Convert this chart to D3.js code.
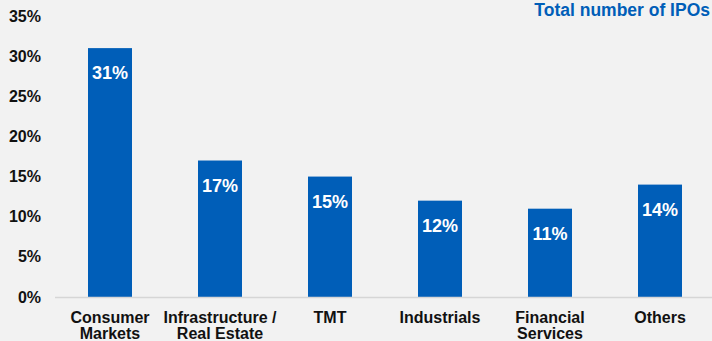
<!DOCTYPE html>
<html>
<head>
<meta charset="utf-8">
<script src="https://cdn.jsdelivr.net/npm/d3@7/dist/d3.min.js"></script>
<style>
  html, body { margin: 0; padding: 0; background: #f2f2f2; }
  svg { display: block; font-family: "Liberation Sans", Arial, sans-serif; }
</style>
</head>
<body>
<svg id="chart" width="712" height="341"></svg>
<script>
// IPO share by sector
const categories = [["Consumer", "Markets"], ["Infrastructure /", "Real Estate"], ["TMT"], ["Industrials"], ["Financial", "Services"], ["Others"]];
const shares = [31, 17, 15, 12, 11, 14];
const yTicks = [0, 5, 10, 15, 20, 25, 30, 35];
const legendLabel = "Total number of IPOs";

const W = 712, H = 341;
const blue = "#005eb8";
const svg = d3.select("#chart");

svg.append("rect").attr("width", W).attr("height", H).attr("fill", "#f2f2f2");

const keys = categories.map(c => c.join(" "));
const x = d3.scaleBand().domain(keys).range([55, 715]).paddingInner(0.6).paddingOuter(0.3);
const y = d3.scaleLinear().domain([0, 35]).range([297, 16]);

// y axis labels (no line, no ticks)
const yAxis = svg.append("g")
  .attr("transform", "translate(41,0)")
  .call(d3.axisLeft(y).tickValues(yTicks).tickSize(0).tickPadding(0).tickFormat(d => d + "%"));
yAxis.select(".domain").remove();
yAxis.selectAll("text")
  .attr("font-family", "Liberation Sans, Arial, sans-serif")
  .attr("font-size", 16).attr("font-weight", "bold").attr("fill", "#111");

// bars
svg.append("g").selectAll("rect")
  .data(shares)
  .join("rect")
  .attr("x", (d, i) => x(keys[i]))
  .attr("y", d => y(d))
  .attr("width", x.bandwidth())
  .attr("height", d => y(0) - y(d))
  .attr("fill", blue);

// value labels inside bars
svg.append("g").selectAll("text")
  .data(shares)
  .join("text")
  .attr("x", (d, i) => x(keys[i]) + x.bandwidth() / 2)
  .attr("y", d => y(d) + 31)
  .attr("text-anchor", "middle")
  .attr("font-size", 18).attr("font-weight", "bold").attr("fill", "#fff")
  .text(d => d + "%");

// baseline
svg.append("line")
  .attr("x1", 55).attr("x2", W)
  .attr("y1", y(0) + 0.5).attr("y2", y(0) + 0.5)
  .attr("stroke", "#d6d6d6").attr("stroke-width", 1.5);

// category labels
const xg = svg.append("g").selectAll("text")
  .data(categories)
  .join("text")
  .attr("x", (d, i) => x(keys[i]) + x.bandwidth() / 2)
  .attr("y", 323)
  .attr("text-anchor", "middle")
  .attr("font-size", 16).attr("font-weight", "bold").attr("fill", "#111");
xg.selectAll("tspan")
  .data(d => d)
  .join("tspan")
  .attr("x", function() { return this.parentNode.getAttribute("x"); })
  .attr("dy", (d, i) => i === 0 ? 0 : 16)
  .text(d => d);

// legend title, anchored to the right edge
svg.append("text")
  .attr("x", W - 2).attr("y", 16)
  .attr("text-anchor", "end")
  .attr("font-size", 17.5).attr("font-weight", "bold").attr("fill", blue)
  .text(legendLabel);
</script>
</body>
</html>
